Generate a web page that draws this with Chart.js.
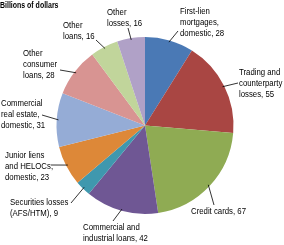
<!DOCTYPE html>
<html>
<head>
<meta charset="utf-8">
<script src="https://cdn.jsdelivr.net/npm/chart.js@4"></script>
<style>
    html, body { margin: 0; padding: 0; background: #ffffff; }
    #wrap { position: relative; width: 284px; height: 245px; }
</style>
</head>
<body>
<div id="wrap">
    <canvas id="lossChart" width="284" height="245"></canvas>
</div>
<script>
const unitLabel = "Billions of dollars";

// label text, broken into lines as in the chart
const categoryLines = [
    ["First-lien", "mortgages,", "domestic"],
    ["Trading and", "counterparty", "losses"],
    ["Credit cards"],
    ["Commercial and", "industrial loans"],
    ["Securities losses", "(AFS/HTM)"],
    ["Junior liens", "and HELOCs,", "domestic"],
    ["Commercial", "real estate,", "domestic"],
    ["Other", "consumer", "loans"],
    ["Other", "loans"],
    ["Other", "losses"]
];
const lossValues = [28, 55, 67, 42, 9, 23, 31, 28, 16, 16];
const sliceColors = [
    "#4a79b5", "#a94643", "#8fab53", "#6f5794", "#3f98ae",
    "#dd8838", "#95acd6", "#d89492", "#c1d59b", "#b0a1c7"
];

// where each leader line ends and its text block starts
const labelLayout = [
    { lx: 178, ly: 31, tx: 180, ty: 7 },
    { lx: 238, ly: 83, tx: 239, ty: 68 },
    { lx: 214, ly: 205, tx: 191, ty: 207 },
    { lx: 113, ly: 221, tx: 83, ty: 223 },
    { lx: 71, ly: 203, tx: 10, ty: 198 },
    { lx: 51, ly: 165, tx: 5, ty: 151 },
    { lx: 42, ly: 115, tx: 1, ty: 99 },
    { lx: 60, ly: 70, tx: 23, ty: 49 },
    { lx: 96, ly: 40, tx: 63, ty: 21 },
    { lx: 128, ly: 28, tx: 107, ty: 8 }
];

const categories = categoryLines.map(lines => lines.join(" "));

// narrow text: regular sans squeezed horizontally
function narrowText(ctx, text, x, y, squeeze) {
    ctx.save();
    ctx.translate(x, y);
    ctx.scale(squeeze, 1);
    ctx.fillText(text, 0, 0);
    ctx.restore();
}

const sliceLabels = {
    id: "sliceLabels",
    afterDraw(chart) {
        const ctx = chart.ctx;
        const arcs = chart.getDatasetMeta(0).data;
        ctx.save();
        ctx.strokeStyle = "#000";
        ctx.lineWidth = 0.8;
        ctx.fillStyle = "#000";
        ctx.textBaseline = "top";

        ctx.font = "bold 8.5px 'Liberation Sans', Arial, sans-serif";
        narrowText(ctx, unitLabel, 0, 1, 0.82);

        ctx.font = "9.5px 'Liberation Sans', Arial, sans-serif";
        arcs.forEach((arc, i) => {
            const p = arc.getProps(["x", "y", "startAngle", "endAngle", "outerRadius"], true);
            const mid = (p.startAngle + p.endAngle) / 2;
            const r = p.outerRadius * 0.98;
            const sx = p.x + Math.cos(mid) * r;
            const sy = p.y + Math.sin(mid) * r;
            const lay = labelLayout[i];
            ctx.beginPath();
            ctx.moveTo(sx, sy);
            ctx.lineTo(lay.lx, lay.ly);
            ctx.stroke();
            const lines = categoryLines[i].slice();
            lines[lines.length - 1] += ", " + lossValues[i];
            lines.forEach((line, j) => {
                narrowText(ctx, line, lay.tx, lay.ty + j * 10.9, 0.82);
            });
        });
        ctx.restore();
    }
};

new Chart(document.getElementById("lossChart"), {
    type: "pie",
    data: {
        labels: categories,
        datasets: [{
            data: lossValues,
            backgroundColor: sliceColors,
            borderWidth: 0
        }]
    },
    options: {
        responsive: false,
        animation: false,
        layout: {
            padding: { left: 56, right: 50, top: 37, bottom: 31 }
        },
        plugins: {
            legend: { display: false },
            tooltip: { enabled: false }
        }
    },
    plugins: [sliceLabels]
});
</script>
</body>
</html>
